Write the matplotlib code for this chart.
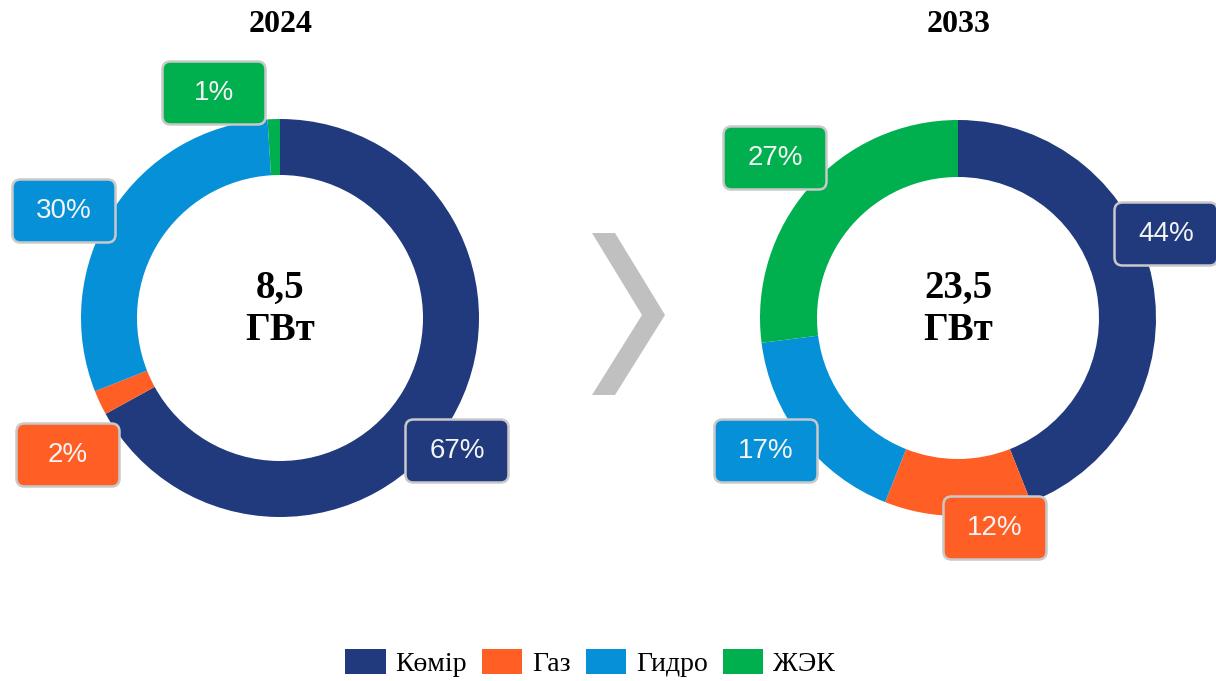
import matplotlib.pyplot as plt
from matplotlib.patches import FancyBboxPatch, Patch, Polygon

# данные
categories = ['Көмір', 'Газ', 'Гидро', 'ЖЭК']
colors = ['#213a7e', '#ff5f24', '#0590d8', '#00b04f']
years = ['2024', '2033']
share_2024 = [67, 2, 30, 1]
share_2033 = [44, 12, 17, 27]
totals = ['8,5', '23,5']

# раскладка в пикселях (y вниз)
W, H = 1216, 681
pies = [
    dict(center=(280, 318), r=199, r_in=143,
         boxes=[(457, 451), (68, 455), (64, 211), (214, 93)]),
    dict(center=(958, 318), r=198, r_in=141,
         boxes=[(1166, 234), (995, 528), (766, 451), (775, 158)]),
]

fig = plt.figure(figsize=(W / 100, H / 100), dpi=100)
ax = fig.add_axes([0, 0, 1, 1])
ax.set_xlim(0, W)
ax.set_ylim(0, H)
ax.set_aspect('equal')
ax.axis('off')

serif = ['Liberation Serif', 'DejaVu Serif']
sans = ['Liberation Sans', 'DejaVu Sans']

for year, vals, total, p in zip(years, [share_2024, share_2033], totals, pies):
    cx, cy = p['center']
    ax.pie(vals, colors=colors, startangle=90, counterclock=False,
           center=(cx, H - cy), radius=p['r'],
           wedgeprops=dict(width=p['r'] - p['r_in'], linewidth=0))
    ax.text(cx + 1, H - 25, year, ha='center', va='center',
            fontsize=23, fontweight='bold', family=serif)
    ax.text(cx, H - 288, total, ha='center', va='center',
            fontsize=28, fontweight='bold', family=serif)
    ax.text(cx, H - 330, 'ГВт', ha='center', va='center',
            fontsize=28, fontweight='bold', family=serif)
    for v, c, (bx, by) in zip(vals, colors, p['boxes']):
        bw, bh = 103, 63
        box = FancyBboxPatch((bx - bw / 2, H - by - bh / 2), bw, bh,
                             boxstyle='round,pad=0,rounding_size=8',
                             facecolor=c, edgecolor='#c9c9c9', linewidth=1.8,
                             zorder=5)
        ax.add_patch(box)
        ax.text(bx, H - by, f'{v}%', ha='center', va='center',
                color='#f4f4f4', fontsize=20, family=sans, zorder=6)

# стрелка-шеврон
chev = [(592, 233), (615, 233), (665, 315), (615, 395), (592, 395), (642, 315)]
ax.add_patch(Polygon([(x, H - y) for x, y in chev], closed=True,
                     facecolor='#c0c0c0', edgecolor='none'))

ax.set_xlim(0, W)
ax.set_ylim(0, H)

handles = [Patch(facecolor=c, edgecolor='none') for c in colors]
fig.legend(handles, categories, loc='center', ncol=4,
           bbox_to_anchor=(590 / W, 1 - 663 / H), frameon=False,
           prop=dict(family=serif, size=20),
           handlelength=1.45, handleheight=1.0, handletextpad=0.35,
           columnspacing=0.55)

fig.savefig('out.png', dpi=100)
